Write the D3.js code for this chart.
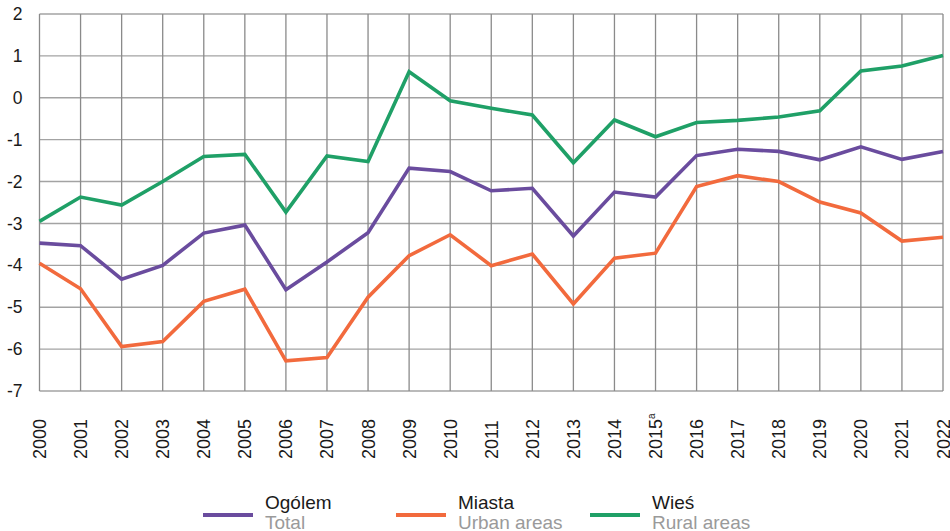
<!DOCTYPE html>
<html>
<head>
<meta charset="utf-8">
<script src="https://cdn.jsdelivr.net/npm/d3@7"></script>
<style>
  body { margin: 0; background: #fff; }
  text { font-family: "Liberation Sans", Arial, sans-serif; }
</style>
</head>
<body>
<div class="canvas"></div>
<script>
// data
const years = ['2000','2001','2002','2003','2004','2005','2006','2007','2008','2009','2010',
  '2011','2012','2013','2014','2015','2016','2017','2018','2019','2020','2021','2022'];
const total = [-3.47,-3.53,-4.33,-4.0,-3.23,-3.04,-4.58,-3.92,-3.22,-1.68,-1.76,
  -2.22,-2.16,-3.30,-2.25,-2.37,-1.38,-1.23,-1.28,-1.48,-1.17,-1.47,-1.28];
const urban = [-3.95,-4.56,-5.94,-5.82,-4.86,-4.57,-6.28,-6.20,-4.76,-3.77,-3.27,
  -4.01,-3.73,-4.92,-3.83,-3.71,-2.12,-1.86,-2.0,-2.49,-2.75,-3.42,-3.33];
const rural = [-2.95,-2.37,-2.56,-2.0,-1.40,-1.35,-2.73,-1.39,-1.52,0.62,-0.07,
  -0.25,-0.41,-1.55,-0.53,-0.93,-0.59,-0.54,-0.46,-0.31,0.64,0.76,1.01];
const yTicks = [2,1,0,-1,-2,-3,-4,-5,-6,-7];

const series = [
  {name: 'Ogólem', en: 'Total', values: total, color: '#6a4c9e'},
  {name: 'Miasta', en: 'Urban areas', values: urban, color: '#f26a3d'},
  {name: 'Wieś', en: 'Rural areas', values: rural, color: '#1fa067'}
];

const width = 950, height = 531;
const margin = {top: 14, right: 7, bottom: 140, left: 39.5};
const graphWidth = width - margin.left - margin.right;
const graphHeight = height - margin.top - margin.bottom;

const svg = d3.select('.canvas')
  .append('svg')
    .attr('width', width)
    .attr('height', height);

const graph = svg.append('g')
  .attr('transform', `translate(${margin.left}, ${margin.top})`);

const x = d3.scalePoint()
  .domain(years)
  .range([0, graphWidth]);

const y = d3.scaleLinear()
  .domain([-7, 2])
  .range([graphHeight, 0]);

// grid
graph.append('g')
  .selectAll('line')
  .data(yTicks)
  .enter().append('line')
    .attr('x1', 0).attr('x2', graphWidth)
    .attr('y1', d => y(d)).attr('y2', d => y(d))
    .attr('stroke', '#a3a3a3')
    .attr('stroke-width', 1.4);

graph.append('g')
  .selectAll('line')
  .data(years)
  .enter().append('line')
    .attr('x1', d => x(d)).attr('x2', d => x(d))
    .attr('y1', 0).attr('y2', graphHeight)
    .attr('stroke', '#8a8a8a')
    .attr('stroke-width', 1.3);

// y axis labels (plain hyphen like the original)
const yAxis = d3.axisLeft(y)
  .tickValues(yTicks)
  .tickSize(0)
  .tickPadding(17)
  .tickFormat(d => String(d));
const yAxisGroup = graph.append('g').call(yAxis);
yAxisGroup.select('.domain').remove();
yAxisGroup.selectAll('text')
  .attr('font-size', 17.5)
  .attr('fill', '#1a1a1a')
  .style('font-family', '"Liberation Sans", Arial, sans-serif');

// x axis labels, rotated
const xLabels = graph.append('g')
  .selectAll('text')
  .data(years)
  .enter().append('text')
    .attr('transform', d => `translate(${x(d) + 6.5}, ${graphHeight + 68}) rotate(-90)`)
    .attr('font-size', 18)
    .attr('fill', '#1a1a1a')
    .text(d => d);

xLabels.filter(d => d === '2015')
  .append('tspan')
    .attr('font-size', 10)
    .attr('dy', -7)
    .text('a');

// lines
const line = d3.line()
  .x((d, i) => x(years[i]))
  .y(d => y(d));

graph.selectAll('path.series')
  .data(series)
  .enter().append('path')
    .attr('class', 'series')
    .attr('d', d => line(d.values))
    .attr('fill', 'none')
    .attr('stroke', d => d.color)
    .attr('stroke-width', 3.6)
    .attr('stroke-linejoin', 'miter');

// legend
const legendX = [203, 396, 590];
const legend = svg.append('g')
  .selectAll('g')
  .data(series)
  .enter().append('g')
    .attr('transform', (d, i) => `translate(${legendX[i]}, 0)`);

legend.append('line')
  .attr('x1', 0).attr('x2', 50)
  .attr('y1', 515).attr('y2', 515)
  .attr('stroke', d => d.color)
  .attr('stroke-width', 4);

legend.append('text')
  .attr('x', 62).attr('y', 509)
  .attr('font-size', 19)
  .attr('fill', '#1a1a1a')
  .text(d => d.name);

legend.append('text')
  .attr('x', 62).attr('y', 529)
  .attr('font-size', 19)
  .attr('fill', '#9a9a9a')
  .text(d => d.en);
</script>
</body>
</html>
